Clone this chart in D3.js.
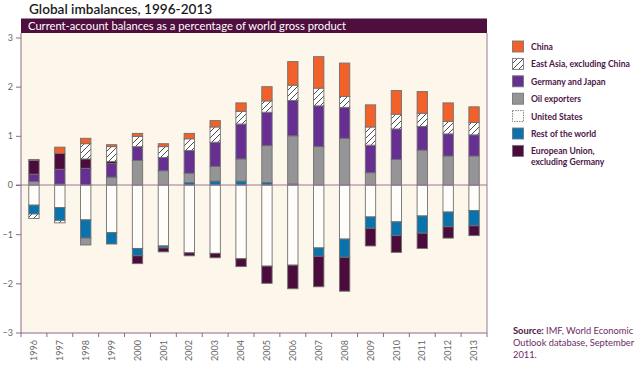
<!DOCTYPE html>
<html><head><meta charset="utf-8">
<script src="https://cdn.jsdelivr.net/npm/d3@7"></script>
<style>
html,body{margin:0;padding:0;background:#fff;}
svg{display:block;font-family:Lato,"Open Sans",sans-serif;}
</style></head>
<body><svg id="c" width="640" height="366"></svg>
<script>
const years = [1996,1997,1998,1999,2000,2001,2002,2003,2004,2005,2006,2007,2008,2009,2010,2011,2012,2013];
const unitedStates = [-0.41,-0.46,-0.71,-0.97,-1.29,-1.24,-1.38,-1.39,-1.50,-1.65,-1.63,-1.28,-1.10,-0.65,-0.75,-0.63,-0.55,-0.52];
const restOfWorld = [-0.18,-0.26,-0.37,-0.23,-0.15,-0.04,0.05,0.08,0.08,0.05,0.02,-0.17,-0.37,-0.23,-0.28,-0.35,-0.30,-0.31];
const oilExporters = [0.07,0.02,-0.14,0.16,0.50,0.29,0.19,0.30,0.45,0.75,0.98,0.78,0.95,0.25,0.52,0.71,0.59,0.59];
const germanyJapan = [0.15,0.30,0.34,0.28,0.28,0.27,0.46,0.49,0.71,0.68,0.72,0.83,0.63,0.56,0.62,0.48,0.45,0.43];
const euExGermany = [0.28,0.32,0.19,0.04,-0.16,-0.08,-0.06,-0.09,-0.16,-0.35,-0.48,-0.62,-0.69,-0.36,-0.34,-0.31,-0.23,-0.20];
const eastAsiaExChina = [-0.09,-0.05,0.31,0.30,0.21,0.22,0.24,0.31,0.26,0.23,0.31,0.36,0.22,0.37,0.30,0.27,0.25,0.25];
const china = [0.02,0.13,0.11,0.04,0.06,0.06,0.11,0.13,0.17,0.29,0.48,0.64,0.68,0.45,0.48,0.44,0.38,0.32];
const yTicks = [-3,-2,-1,0,1,2,3];

const title = "Global imbalances, 1996-2013";
const subtitle = "Current-account balances as a percentage of world gross product";

const seriesKeys = ["us","rest","oil","gj","eu","ea","china"];
const seriesData = {us:unitedStates, rest:restOfWorld, oil:oilExporters, gj:germanyJapan, eu:euExGermany, ea:eastAsiaExChina, china:china};
const fills = {china:"#f2612a", ea:"url(#hatch)", gj:"#672f92", oil:"#959597", us:"#fffdf9", rest:"#0a73ad", eu:"#4b0b3b"};
const legendItems = [
  {key:"china", label:["China"]},
  {key:"ea", label:["East Asia, excluding China"]},
  {key:"gj", label:["Germany and Japan"]},
  {key:"oil", label:["Oil exporters"]},
  {key:"us", label:["United States"]},
  {key:"rest", label:["Rest of the world"]},
  {key:"eu", label:["European Union,","excluding Germany"]}
];

const rows = years.map((y,i)=>{const r={year:y}; seriesKeys.forEach(k=>r[k]=seriesData[k][i]); return r;});

const svg = d3.select("#c");
const defs = svg.append("defs");
const pat = defs.append("pattern").attr("id","hatch").attr("patternUnits","userSpaceOnUse")
  .attr("width",6).attr("height",6);
pat.append("rect").attr("width",6).attr("height",6).attr("fill","#ffffff");
pat.append("path").attr("d","M-1,7 L7,-1 M-1,1 L1,-1 M5,7 L7,5").attr("stroke","#3a3a3a").attr("stroke-width",0.9);

const L=21, R=487, T=33, B=333;
const x = d3.scaleBand().domain(years).range([L,R]).paddingInner(0.6).paddingOuter(0.3);
const y = d3.scaleLinear().domain([-3,3]).range([332.5,37.5]);

// title
svg.append("text").attr("x",29).attr("y",14).attr("font-size",13.6).attr("font-weight",600)
  .attr("fill","#1a1a1a").text(title);
// header bar
svg.append("rect").attr("x",L).attr("y",18.5).attr("width",R-L).attr("height",14.5).attr("fill","#4e0e3e");
svg.append("text").attr("x",28).attr("y",29.5).attr("font-size",11.2).attr("fill","#ffffff").text(subtitle);

// plot background
svg.append("rect").attr("x",L).attr("y",T).attr("width",R-L).attr("height",B-T).attr("fill","#fdf6ea");

// stack
const stack = d3.stack().keys(seriesKeys).offset(d3.stackOffsetDiverging);
const series = stack(rows);
const bw = x.bandwidth();

const g = svg.append("g");
series.forEach(s=>{
  g.selectAll(null).data(s.filter(d=>Math.abs(d[1]-d[0])>0.0001)).join("rect")
    .attr("x",d=>x(d.data.year))
    .attr("y",d=>y(Math.max(d[0],d[1])))
    .attr("width",bw)
    .attr("height",d=>Math.abs(y(d[0])-y(d[1])))
    .attr("fill",fills[s.key])
    .attr("stroke","#707070")
    .attr("stroke-width",0.9);
});

// zero line
svg.append("line").attr("x1",16).attr("x2",R).attr("y1",y(0)).attr("y2",y(0))
  .attr("stroke","#9a7995").attr("stroke-width",1);

// y axis
const ya = svg.append("g").attr("transform",`translate(${L},0)`)
  .call(d3.axisLeft(y).tickValues(yTicks).tickSize(5).tickFormat(d3.format("d")));
ya.select(".domain").attr("stroke","#8c6b87").attr("d",`M0,${T}V${B}`);
ya.selectAll(".tick line").attr("stroke","#8c6b87");
ya.selectAll(".tick text").attr("fill","#666").attr("font-size",9).attr("x",-8)
  .attr("font-family","Lato,sans-serif");

// right border
svg.append("line").attr("x1",R).attr("x2",R).attr("y1",T).attr("y2",B).attr("stroke","#9a7995");
// bottom line
svg.append("line").attr("x1",L).attr("x2",R).attr("y1",B).attr("y2",B).attr("stroke","#8c6b87");

// bottom ticks at band boundaries
const step = x.step();
const bounds = years.map(yr=>x(yr)-(step-bw)/2).concat([R]);
svg.selectAll(null).data(bounds).join("line")
  .attr("x1",d=>d).attr("x2",d=>d).attr("y1",B).attr("y2",B+4)
  .attr("stroke","#8c6b87");

// x labels
const xa = svg.append("g").attr("transform",`translate(0,${B})`)
  .call(d3.axisBottom(x).tickSize(0));
xa.select(".domain").remove();
xa.selectAll(".tick text").attr("transform","rotate(-90)").attr("text-anchor","end")
  .attr("x",-7).attr("y",0).attr("dy","0.35em").attr("fill","#666").attr("font-size",9)
  .attr("font-family","Lato,sans-serif");

// legend
const lg = svg.append("g");
legendItems.forEach((it,i)=>{
  const yy = 41 + i*17.4;
  lg.append("rect").attr("x",512.5).attr("y",yy).attr("width",11).attr("height",11)
    .attr("fill",fills[it.key]).attr("stroke","#777").attr("stroke-width",0.9)
    .attr("stroke-dasharray", it.key==="us" ? "1.5,1" : null);
  it.label.forEach((t,j)=>{
    lg.append("text").attr("x",531).attr("y",yy+9+j*10.5).attr("font-size",8.6)
      .attr("font-weight",700).attr("fill","#4c1646").text(t);
  });
});

// source
const src = svg.append("g").attr("font-size",9.3).attr("fill","#6d2c64");
const t1 = src.append("text").attr("x",513).attr("y",334);
t1.append("tspan").attr("font-weight",700).attr("fill","#4c1646").text("Source: ");
t1.append("tspan").text("IMF, World Economic");
src.append("text").attr("x",513).attr("y",346).text("Outlook database, September");
src.append("text").attr("x",513).attr("y",358).text("2011.");
</script></body></html>
